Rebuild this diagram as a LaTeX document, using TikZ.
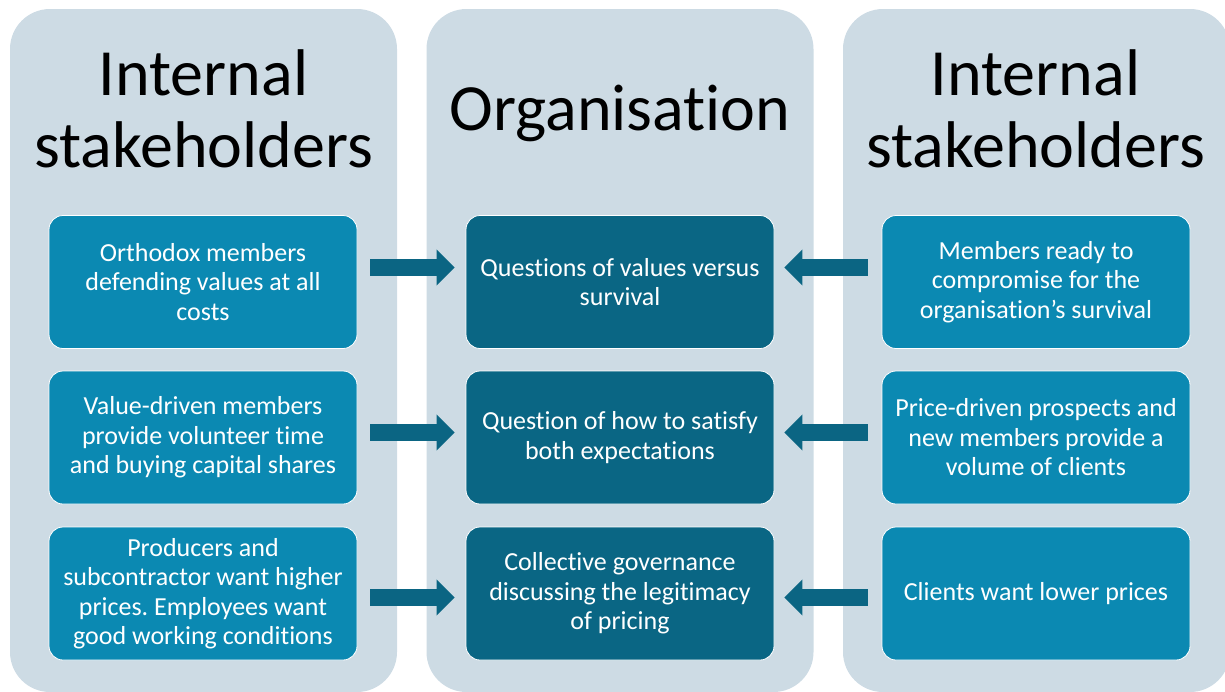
\documentclass[tikz,border=0pt]{standalone}
\usepackage{fontspec}
\setmainfont{Carlito}[Ligatures=NoCommon]
\frenchspacing
\usetikzlibrary{arrows.meta,positioning}
\definecolor{panelgrey}{RGB}{205,219,228}
\definecolor{sidebox}{RGB}{11,137,178}
\definecolor{orgbox}{RGB}{10,102,132}
\definecolor{flowcol}{RGB}{11,101,131}

\begin{document}
\begin{tikzpicture}[x=1pt,y=-1pt,
  panel/.style={fill=panelgrey,rounded corners=40pt,minimum width=387pt,minimum height=683pt,inner sep=0pt},
  heading/.style={align=center,font=\fontsize{66}{72}\selectfont,text=black,inner sep=0pt},
  stake/.style={fill=sidebox,draw=white,line width=0.8pt,rounded corners=14pt,minimum width=308pt,minimum height=133pt,
    align=center,text=white,font=\fontsize{26}{29.5}\selectfont,inner sep=2pt},
  issue/.style={stake,fill=orgbox},
  flow/.style={color=flowcol,line width=17pt,-{Triangle[length=18pt,width=35pt]}}]
\useasboundingbox (0,0) rectangle (1225,691);
% columns
\node[panel] (lp) at (203.5,350.5) {};
\node[panel] (mp) at (620,350.5) {};
\node[panel] (rp) at (1036.5,350.5) {};
\node[heading,anchor=base] (lt) at (203.5,167) {Internal\\stakeholders};
\node[heading,anchor=base] (mt) at (620,130) {Organisation};
\node[heading,anchor=base] (rt) at (1035.5,167) {Internal\\stakeholders};
% boxes
\node[stake] (l1) at (203,282) {Orthodox members\\defending values at all\\costs};
\node[stake] (l2) at (203,437.5) {Value-driven members\\provide volunteer time\\and buying capital shares};
\node[stake] (l3) at (203,593.5) {Producers and\\subcontractor want higher\\prices. Employees want\\good working conditions};
\node[issue] (m1) at (620,282) {Questions of values versus\\survival};
\node[issue] (m2) at (620,437.5) {Question of how to satisfy\\both expectations};
\node[issue] (m3) at (620,593.5) {Collective governance\\discussing the legitimacy\\of pricing};
\node[stake] (r1) at (1036,282) {Members ready to\\compromise for the\\organisation’s survival};
\node[stake] (r2) at (1036,437.5) {Price-driven prospects and\\new members provide a\\volume of clients};
\node[stake] (r3) at (1036,593.5) {Clients want lower prices};
% arrows
\foreach \r/\s in {1/14.5,2/5,3/-4}{
  \draw[flow,shorten <=13pt,shorten >=11pt] ([yshift=\s pt]l\r.east) -- ([yshift=\s pt]m\r.west);
  \draw[flow,shorten <=14pt,shorten >=10pt] ([yshift=\s pt]r\r.west) -- ([yshift=\s pt]m\r.east);
}
\end{tikzpicture}
\end{document}
